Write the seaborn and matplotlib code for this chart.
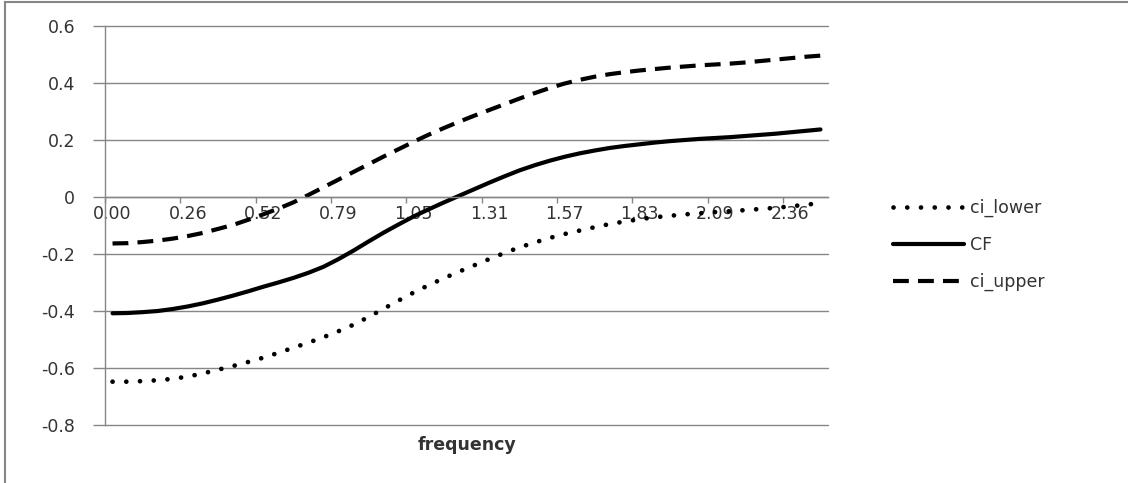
import numpy as np
import pandas as pd
import matplotlib
matplotlib.use("Agg")
import matplotlib.pyplot as plt
import seaborn as sns
from matplotlib.patches import Rectangle

# ---- data ----
frequency = [round(i * np.pi / 60, 4) for i in range(48)]
tick_labels = ["0.00", "0.26", "0.52", "0.79", "1.05", "1.31", "1.57", "1.83", "2.09", "2.36"]

cf = [-0.408, -0.407, -0.404, -0.400, -0.393, -0.384, -0.373, -0.360, -0.346, -0.331,
      -0.315, -0.300, -0.284, -0.266, -0.245, -0.218, -0.188, -0.156, -0.125, -0.096,
      -0.068, -0.043, -0.019, 0.004, 0.027, 0.050, 0.072, 0.093, 0.111, 0.127,
      0.141, 0.153, 0.163, 0.172, 0.179, 0.185, 0.191, 0.196, 0.200, 0.204,
      0.207, 0.210, 0.214, 0.218, 0.222, 0.227, 0.232, 0.237]

ci_upper = [-0.163, -0.162, -0.158, -0.153, -0.146, -0.137, -0.126, -0.112, -0.098, -0.080,
            -0.061, -0.041, -0.019, 0.007, 0.034, 0.061, 0.088, 0.115, 0.142, 0.168,
            0.194, 0.219, 0.242, 0.264, 0.285, 0.305, 0.325, 0.345, 0.364, 0.382,
            0.398, 0.411, 0.422, 0.431, 0.438, 0.444, 0.449, 0.454, 0.458, 0.462,
            0.465, 0.468, 0.472, 0.477, 0.482, 0.487, 0.492, 0.496]

ci_lower = [-0.648, -0.648, -0.646, -0.643, -0.638, -0.630, -0.619, -0.606, -0.593, -0.579,
            -0.564, -0.547, -0.529, -0.511, -0.492, -0.471, -0.448, -0.421, -0.392, -0.363,
            -0.335, -0.309, -0.285, -0.262, -0.240, -0.218, -0.197, -0.177, -0.160, -0.144,
            -0.130, -0.118, -0.106, -0.095, -0.086, -0.078, -0.071, -0.066, -0.061, -0.057,
            -0.053, -0.050, -0.046, -0.042, -0.038, -0.033, -0.027, -0.022]

y_ticks = [0.6, 0.4, 0.2, 0.0, -0.2, -0.4, -0.6, -0.8]
y_tick_labels = ["0.6", "0.4", "0.2", "0", "-0.2", "-0.4", "-0.6", "-0.8"]

# ---- figure ----
sns.set_theme(style="white")
plt.rcParams["font.family"] = ["DejaVu Sans"]

GRID = "#868686"
TXT = "#333333"
FS = 12.5

fig = plt.figure(figsize=(11.28, 4.83), dpi=100)
ax = fig.add_axes([105 / 1128, 1 - 425 / 483, (828 - 105) / 1128, (425 - 26) / 483])

idx = np.arange(len(frequency))
df = pd.DataFrame({"idx": idx, "ci_lower": ci_lower, "CF": cf, "ci_upper": ci_upper})

sns.lineplot(data=df, x="idx", y="ci_lower", ax=ax, color="black", lw=3.4,
             linestyle=(0, (0.01, 2.9)), dash_capstyle="round", label="ci_lower")
sns.lineplot(data=df, x="idx", y="CF", ax=ax, color="black", lw=3,
             solid_capstyle="round", label="CF")
sns.lineplot(data=df, x="idx", y="ci_upper", ax=ax, color="black", lw=3,
             linestyle=(0, (3.8, 2.2)), label="ci_upper")

ax.set_xlim(-0.5, len(frequency) - 0.5)
ax.set_ylim(-0.8, 0.6)

# grid
ax.set_yticks(y_ticks)
ax.set_yticklabels(y_tick_labels)
ax.yaxis.grid(True, color=GRID, lw=1)
ax.xaxis.grid(False)
ax.set_axisbelow(True)
for gl in ax.get_ygridlines():
    gl.set_clip_on(False)

# x axis crossing at 0, ticks between category groups, labels on categories
for s in ["top", "right"]:
    ax.spines[s].set_visible(False)
ax.spines["bottom"].set_position(("data", 0))
ax.spines["bottom"].set_color(GRID)
ax.spines["left"].set_color(GRID)
ax.spines["bottom"].set_linewidth(1)
ax.spines["left"].set_linewidth(1)

label_pos = idx[::5]
ax.set_xticks(label_pos - 0.5)
ax.set_xticklabels([])
ax.set_xticks(label_pos, minor=True)
ax.set_xticklabels(tick_labels, minor=True)
ax.tick_params(axis="x", which="major", direction="out", length=4.3, width=1, color=GRID, bottom=True)
ax.tick_params(axis="x", which="minor", length=0, pad=6, labelsize=FS, labelcolor=TXT)
ax.tick_params(axis="y", which="major", direction="out", length=8.5, width=1, color=GRID,
               pad=13, labelsize=FS, labelcolor=TXT, left=True)

ax.set_xlabel("frequency", fontsize=FS, fontweight="bold", color=TXT)
ax.xaxis.label.set_va("center")
ax.xaxis.set_label_coords(0.5, -0.05)
ax.set_ylabel("")

leg = ax.legend(loc="center left", bbox_to_anchor=(893 / 1128, 1 - 245 / 483),
                bbox_transform=fig.transFigure, frameon=False, fontsize=FS,
                handlelength=4.1, handletextpad=0.35, labelspacing=1.1,
                borderpad=0, borderaxespad=0)
for t in leg.get_texts():
    t.set_color(TXT)

# chart border
fig.patches.append(Rectangle((5 / 1128, -0.05), 1.2, 1 - 2.5 / 483 + 0.05,
                             transform=fig.transFigure, fill=False,
                             edgecolor=GRID, lw=1.5))

fig.savefig("out.png", dpi=100)
